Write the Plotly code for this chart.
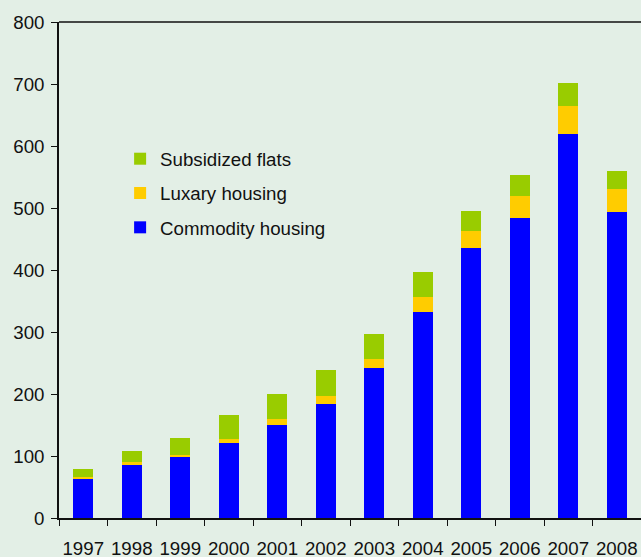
import plotly.graph_objects as go

years = ["1997", "1998", "1999", "2000", "2001", "2002", "2003", "2004", "2005", "2006", "2007", "2008"]
commodity = [63, 87, 99, 121, 150, 184, 242, 332, 436, 484, 620, 493]
luxury = [3, 3, 3, 6, 9, 13, 14, 24, 27, 35, 45, 37]
subsidized = [13, 18, 27, 39, 41, 41, 41, 40, 32, 34, 36, 29]

BG = "#E3EFE6"
FONT = "Liberation Sans"
FS = 18.7

fig = go.Figure()
fig.add_trace(go.Bar(x=years, y=commodity, name="Commodity housing", legendrank=3,
                     marker=dict(color="#0000FF", line=dict(width=0)), legendgroup="c"))
fig.add_trace(go.Bar(x=years, y=luxury, name="Luxary housing", legendrank=2,
                     marker=dict(color="#FFCC00", line=dict(width=0)), legendgroup="l"))
fig.add_trace(go.Bar(x=years, y=subsidized, name="Subsidized flats", legendrank=1,
                     marker=dict(color="#99CC00", line=dict(width=0)), legendgroup="s"))

fig.update_layout(
    width=641, height=557,
    barmode="stack", bargap=0.59,
    paper_bgcolor=BG, plot_bgcolor=BG,
    margin=dict(l=59, r=0, t=22, b=39, autoexpand=False),
    font=dict(family=FONT, size=FS, color="#111111"),
    showlegend=True,
    legend=dict(
        x=0.105, y=0.762, xanchor="left", yanchor="top",
        traceorder="grouped", tracegroupgap=7,
        bgcolor="rgba(0,0,0,0)", font=dict(size=FS, family=FONT),
        itemwidth=30,
    ),
    xaxis=dict(
        type="category", showline=True, linecolor="#111111", linewidth=1.5,
        ticks="outside", ticklen=6, tickcolor="#111111", tickson="boundaries",
        showgrid=False, ticklabelstandoff=13, range=[-0.5, 11.5], tickangle=0,
        automargin=False, tickfont=dict(size=FS, family=FONT),
    ),
    yaxis=dict(
        range=[0, 800], dtick=100, showline=True, linecolor="#111111", linewidth=1.5,
        ticks="outside", ticklen=6, tickcolor="#111111", showgrid=False,
        zeroline=False, ticklabelstandoff=3, automargin=False,
        tickfont=dict(size=FS, family=FONT),
    ),
    shapes=[dict(type="line", xref="paper", yref="paper", x0=0, x1=1, y0=1, y1=1,
                 line=dict(color="#111111", width=1.5))],
)

fig.write_html("out.html", config={"displayModeBar": False},
               post_script="document.body.style.margin='0';document.body.style.background='%s';" % BG)
